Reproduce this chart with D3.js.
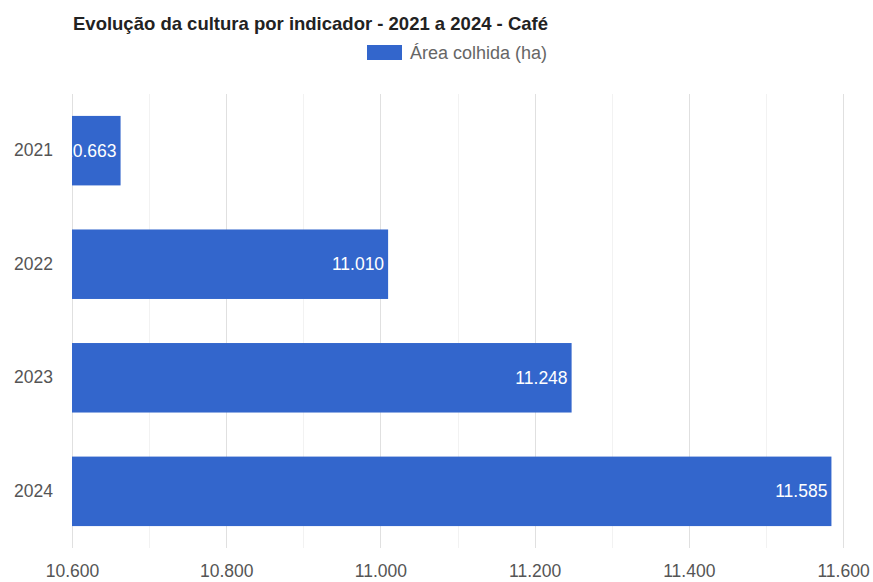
<!DOCTYPE html>
<html><head><meta charset="utf-8">
<script src="https://cdn.jsdelivr.net/npm/d3@7"></script>
<style>body{margin:0;background:#fff;} svg{display:block;font-family:"Liberation Sans",Arial,sans-serif;}</style>
</head><body>
<svg id="chart" width="873" height="582"></svg>
<script>
const title = "Evolução da cultura por indicador - 2021 a 2024 - Café";
const seriesName = "Área colhida (ha)";
const years = ["2021", "2022", "2023", "2024"];
const areaColhida = [10663, 11010, 11248, 11585];
const xTicks = [10600, 10800, 11000, 11200, 11400, 11600];
const xMinorTicks = [10700, 10900, 11100, 11300, 11500];

const W = 873, H = 582;
const margin = {left: 72, right: 30, top: 94, bottom: 34};
const barColor = "#3366cc";
const labelSize = 17.5;

const loc = d3.formatLocale({decimal: ",", thousands: ".", grouping: [3], currency: ["R$", ""]});
const fmt = loc.format(",d");

const svg = d3.select("#chart");
const x = d3.scaleLinear().domain([10600, 11600]).range([margin.left, 843]);
const y = d3.scaleBand().domain(years).range([margin.top, H - margin.bottom])
  .paddingInner(0.388).paddingOuter(0.193);

// gridlines
svg.append("g").selectAll("line").data(xMinorTicks).join("line")
  .attr("x1", d => Math.round(x(d)) + 0.5).attr("x2", d => Math.round(x(d)) + 0.5)
  .attr("y1", margin.top).attr("y2", H - margin.bottom)
  .attr("stroke", "#f2f2f2").attr("stroke-width", 1);
svg.append("g").selectAll("line").data(xTicks).join("line")
  .attr("x1", d => Math.round(x(d)) + 0.5).attr("x2", d => Math.round(x(d)) + 0.5)
  .attr("y1", margin.top).attr("y2", H - margin.bottom)
  .attr("stroke", "#e0e0e0").attr("stroke-width", 1);

// x axis (labels only)
const xAxis = d3.axisBottom(x).tickValues(xTicks).tickFormat(fmt).tickSize(0).tickPadding(0);
const gx = svg.append("g").attr("transform", `translate(0,${H - margin.bottom})`).call(xAxis);
gx.select(".domain").remove();
gx.selectAll("text").attr("font-size", labelSize).attr("fill", "#555")
  .attr("font-family", "Liberation Sans, Arial, sans-serif").attr("dy", null).attr("y", 29);

// y axis (labels only)
const yAxis = d3.axisLeft(y).tickSize(0).tickPadding(19);
const gy = svg.append("g").attr("transform", `translate(${margin.left},0)`).call(yAxis);
gy.select(".domain").remove();
gy.selectAll("text").attr("font-size", labelSize).attr("fill", "#555")
  .attr("font-family", "Liberation Sans, Arial, sans-serif");

// bars
const defs = svg.append("defs");
const data = years.map((yr, i) => ({yr, v: areaColhida[i], i}));
defs.selectAll("clipPath").data(data).join("clipPath").attr("id", d => "clip" + d.i)
  .append("rect").attr("x", x(10600)).attr("y", d => y(d.yr))
  .attr("width", d => x(d.v) - x(10600)).attr("height", y.bandwidth());
svg.append("g").selectAll("rect").data(data).join("rect")
  .attr("x", x(10600)).attr("y", d => y(d.yr))
  .attr("width", d => x(d.v) - x(10600)).attr("height", y.bandwidth())
  .attr("fill", barColor);
svg.append("g").selectAll("text").data(data).join("text")
  .attr("clip-path", d => `url(#clip${d.i})`)
  .attr("x", d => x(d.v) - 4).attr("y", d => y(d.yr) + y.bandwidth() / 2)
  .attr("dy", "0.35em").attr("text-anchor", "end")
  .attr("font-size", labelSize).attr("fill", "#fff")
  .text(d => fmt(d.v));

// title
svg.append("text").attr("x", 73).attr("y", 30).attr("font-size", 18.5).attr("font-weight", "bold")
  .attr("fill", "#222").text(title);

// legend
svg.append("rect").attr("x", 367).attr("y", 45).attr("width", 35).attr("height", 15).attr("fill", barColor);
svg.append("text").attr("x", 410).attr("y", 59).attr("font-size", 18).attr("fill", "#666").text(seriesName);
</script>
</body></html>
